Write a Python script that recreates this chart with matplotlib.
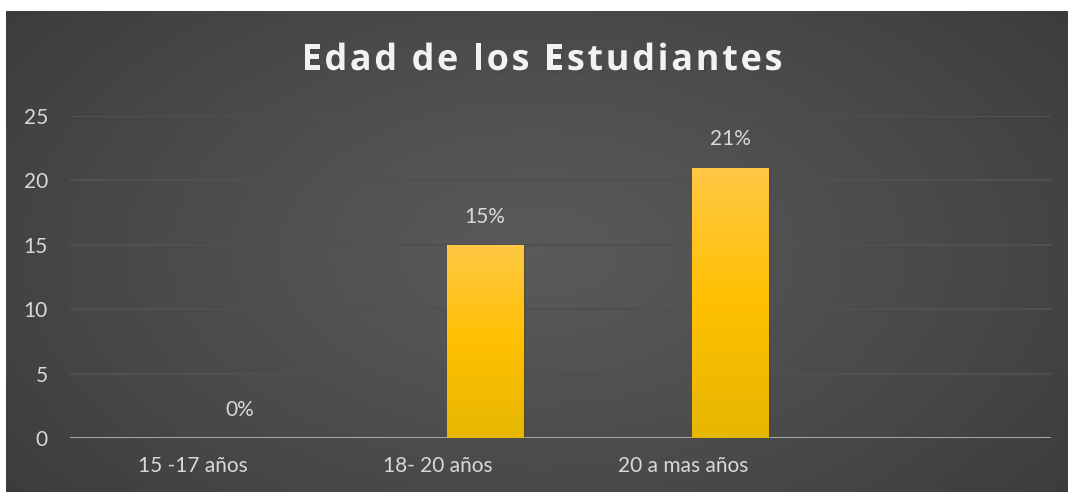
import numpy as np
import matplotlib
matplotlib.use("Agg")
import matplotlib.pyplot as plt
import matplotlib.patheffects as pe
from matplotlib.colors import LinearSegmentedColormap

# datos
categorias = ['15 -17 años', '18- 20 años', '20 a mas años', '']
valores = [0, 15, 21, None]
etiquetas = ['0%', '15%', '21%', '']
yticks = [0, 5, 10, 15, 20, 25]
titulo = 'Edad de los Estudiantes'

W, H = 1068, 493
fig = plt.figure(figsize=(W / 100, H / 100), dpi=100, facecolor='white')

# fondo oscuro con degradado radial
bg = fig.add_axes([6 / W, 1 / H, (W - 6) / W, (H - 12) / H])
bg.set_axis_off()
yy, xx = np.mgrid[0:240, 0:530]
cx, cy = 265, 120
r = np.sqrt(((xx - cx) / 560.0) ** 2 + ((yy - cy) / 330.0) ** 2)
r = np.clip(r / 0.95, 0, 1)
c_centro = np.array([0.35, 0.35, 0.35])
c_borde = np.array([0.15, 0.15, 0.15])
img = c_centro[None, None, :] + (c_borde - c_centro)[None, None, :] * r[..., None] ** 1.2
bg.imshow(img, aspect='auto', extent=[0, 1, 0, 1], interpolation='bilinear')
bg.set_xlim(0, 1)
bg.set_ylim(0, 1)

ax = fig.add_axes([70 / W, (H - 438) / H, 981 / W, (438 - 116) / H])
ax.patch.set_alpha(0)
ax.set_xlim(-0.5, 3.5)
ax.set_ylim(0, 25)

for s in ax.spines.values():
    s.set_visible(False)
ax.axhline(0, color='#a6a6a6', lw=2.2, zorder=3)
ax.set_yticks(yticks)
ax.grid(axis='y', color='#505050', lw=1.6, zorder=0)
ax.tick_params(axis='both', length=0, colors='#d9d9d9', labelsize=15)
ax.tick_params(axis='y', pad=16)
ax.tick_params(axis='x', pad=13)
ax.set_xticks(range(len(categorias)))
ax.set_xticklabels(categorias)
for t in ax.get_xticklabels() + ax.get_yticklabels():
    t.set_fontfamily('Lato')

ancho = 0.31
desp = 0.192
cmap = LinearSegmentedColormap.from_list('amarillo', ['#e6b700', '#ffc000', '#ffc845'])
grad = np.linspace(0, 1, 256).reshape(-1, 1)
for i, v in enumerate(valores):
    if v is None:
        continue
    x = i + desp
    if v > 0:
        b = ax.bar(x, v, width=ancho, color='#ffc000', zorder=4,
                   path_effects=[pe.SimplePatchShadow(offset=(1.5, -1.5), alpha=0.45), pe.Normal()])[0]
        im = ax.imshow(grad, cmap=cmap, origin='lower', aspect='auto',
                       extent=[x - ancho / 2, x + ancho / 2, 0, v], zorder=5)
        im.set_clip_path(b)
    ax.annotate(etiquetas[i], (x, v), xytext=(0, 13), textcoords='offset points',
                ha='center', va='bottom', color='#d9d9d9', fontsize=15, family='Lato')
ax.set_xlim(-0.5, 3.5)
ax.set_ylim(0, 25)

# titulo con espaciado entre letras
fig.canvas.draw()
rend = fig.canvas.get_renderer()
fp = dict(fontsize=26, fontweight='bold', family='Open Sans')


def ancho_txt(s):
    t = fig.text(0, 0, s + '|', **fp)
    w1 = t.get_window_extent(rend).width
    t.remove()
    t = fig.text(0, 0, '|', **fp)
    w2 = t.get_window_extent(rend).width
    t.remove()
    return w1 - w2


esp = 2.6
pos = [ancho_txt(titulo[:i]) + i * esp for i in range(len(titulo))]
total = ancho_txt(titulo) + (len(titulo) - 1) * esp
x0 = (307 + 777) / 2 - total / 2
for ch, p in zip(titulo, pos):
    if ch == ' ':
        continue
    fig.text((x0 + p) / W, 1 - 61 / H, ch, color='#f2f2f2', va='center', ha='left',
             path_effects=[pe.SimplePatchShadow(offset=(1.5, -2), alpha=0.6), pe.Normal()], **fp)

fig.savefig('out.png', dpi=100, facecolor='white')
